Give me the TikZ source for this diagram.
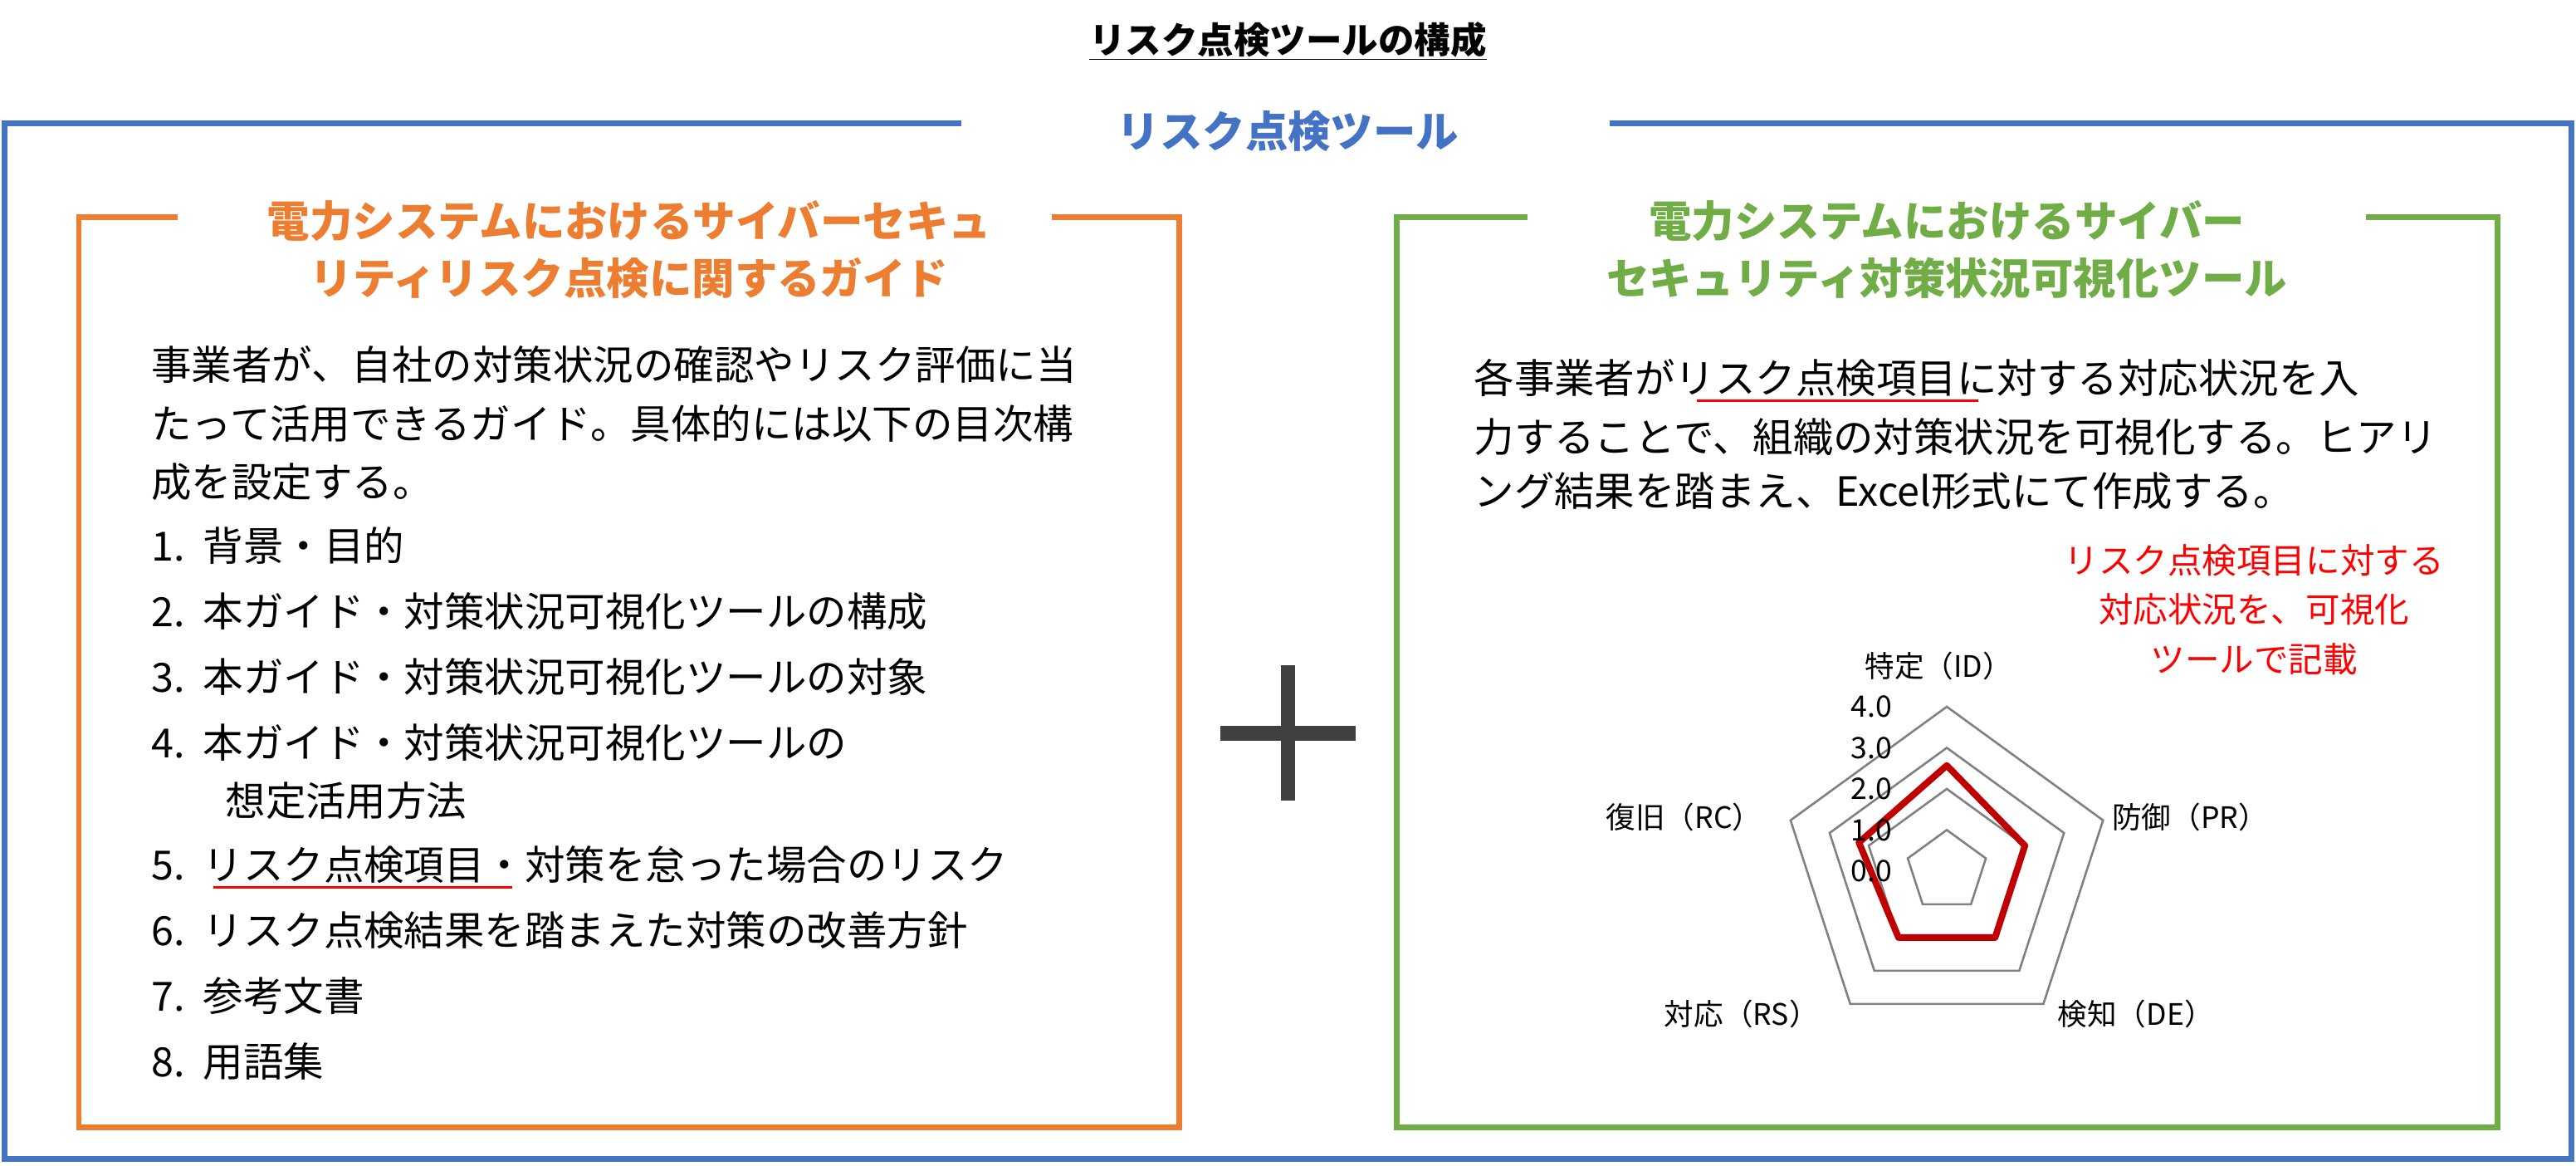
\documentclass[tikz,border=0pt]{standalone}
\usepackage{fontspec}
\setmainfont{Noto Sans CJK JP}
\usetikzlibrary{positioning,calc}
\definecolor{toolblue}{RGB}{68,114,196}
\definecolor{guideorange}{RGB}{237,125,49}
\definecolor{visgreen}{RGB}{112,173,71}
\definecolor{chartred}{RGB}{192,0,0}
\definecolor{plusgray}{RGB}{64,64,64}

\begin{document}
\begin{tikzpicture}[
    x=1pt, y=-1pt,
    frame/.style={line width=3.5pt},
    heading/.style={
		font=\fontsize{26}{35}\selectfont\bfseries,
		align=center
	},
	body/.style={
		font=\fontsize{24.5}{35}\selectfont,
		anchor=west,
		inner sep=0pt
	},
	item/.style={
		body
	},
	axislabel/.style={
		font=\fontsize{18}{22}\selectfont,
		inner sep=1pt
	},
	tick/.style={
		font=\fontsize{18}{22}\selectfont,
		anchor=east,
		inner sep=0pt
	}
  ]
  \useasboundingbox (0,0) rectangle (1568,709);

  % title
  \node [font=\fontsize{22}{26}\selectfont\bfseries] (title) at (784,25)
    {\underline{リスク点検ツールの構成}};

  % outer frame
  \draw [frame, toolblue] (585,75) -- (3,75) -- (3,705) -- (1565,705) -- (1565,75) -- (980,75);
  \node [heading, text=toolblue] (toolname) at (784,80) {リスク点検ツール};

  % guide box
  \draw [frame, guideorange] (108,132) -- (48,132) -- (48,686) -- (718,686) -- (718,132) -- (640,132);
  \node [heading, text=guideorange] (guidetitle) at (383,152)
    {電力システムにおけるサイバーセキュ\\リティリスク点検に関するガイド};

  \node [body] (g1) at (92,222) {事業者が、自社の対策状況の確認やリスク評価に当};
  \node [body] (g2) at (92,258) {たって活用できるガイド。具体的には以下の目次構};
  \node [body] (g3) at (92,293) {成を設定する。};
  \node [item] (i1) at (92,332) {1.\ \ 背景・目的};
  \node [item] (i2) at (92,372) {2.\ \ 本ガイド・対策状況可視化ツールの構成};
  \node [item] (i3) at (92,412) {3.\ \ 本ガイド・対策状況可視化ツールの対象};
  \node [item] (i4) at (92,452) {4.\ \ 本ガイド・対策状況可視化ツールの};
  \node [item] (i4b) at (137,487) {想定活用方法};
  \node [item] (i5) at (92,526) {5.\ \ リスク点検項目・対策を怠った場合のリスク};
  \node [item] (i6) at (92,566) {6.\ \ リスク点検結果を踏まえた対策の改善方針};
  \node [item] (i7) at (92,606) {7.\ \ 参考文書};
  \node [item] (i8) at (92,646) {8.\ \ 用語集};
  \draw [red, line width=1.5pt] (130,540) -- (312,540);

  % plus
  \node (plus) at (784,446) {};
  \draw [plusgray, line width=9pt] ($(plus)+(-41,0)$) -- ($(plus)+(41,0)$)
    ($(plus)+(0,-41)$) -- ($(plus)+(0,41)$);

  % visualisation box
  \draw [frame, visgreen] (930,132) -- (850,132) -- (850,686) -- (1520,686) -- (1520,132) -- (1440,132);
  \node [heading, text=visgreen] (vistitle) at (1185,152)
    {電力システムにおけるサイバー\\セキュリティ対策状況可視化ツール};

  \node [body] (v1) at (897,230) {各事業者がリスク点検項目に対する対応状況を入};
  \node [body] (v2) at (897,266) {力することで、組織の対策状況を可視化する。ヒアリ};
  \node [body] (v3) at (897,299) {ング結果を踏まえ、Excel形式にて作成する。};
  \draw [red, line width=1.5pt] (1033,244) -- (1204,244);

  \node [font=\fontsize{21}{30}\selectfont, text=red, align=center] (note) at (1372,371)
    {リスク点検項目に対する\\対応状況を、可視化\\ツールで記載};

  % radar chart
  \coordinate (c) at (1185,530);
  \foreach \r in {1,2,3,4}
    \draw [gray, line width=1.3pt]
      ($(c)+(90:-25*\r)$) -- ($(c)+(162:-25*\r)$) -- ($(c)+(234:-25*\r)$)
      -- ($(c)+(306:-25*\r)$) -- ($(c)+(18:-25*\r)$) -- cycle;
  \draw [chartred, line width=4pt, line join=round]
    ($(c)+(90:-25*2.57)$) -- ($(c)+(18:-25*2.25)$) -- ($(c)+(306:-25*2.0)$)
    -- ($(c)+(234:-25*2.0)$) -- ($(c)+(162:-25*2.0)$) -- cycle;
  \foreach \v in {0,1,2,3,4}
    \node [tick] (tick\v) at (1152,530-25*\v) {\v.0};

  \node [axislabel] (id) at (1180,405) {特定（ID）};
  \node [axislabel] (pr) at (1333,497) {防御（PR）};
  \node [axislabel] (de) at (1300,617) {検知（DE）};
  \node [axislabel] (rs) at (1060,617) {対応（RS）};
  \node [axislabel] (rc) at (1025,497) {復旧（RC）};
\end{tikzpicture}
\end{document}
